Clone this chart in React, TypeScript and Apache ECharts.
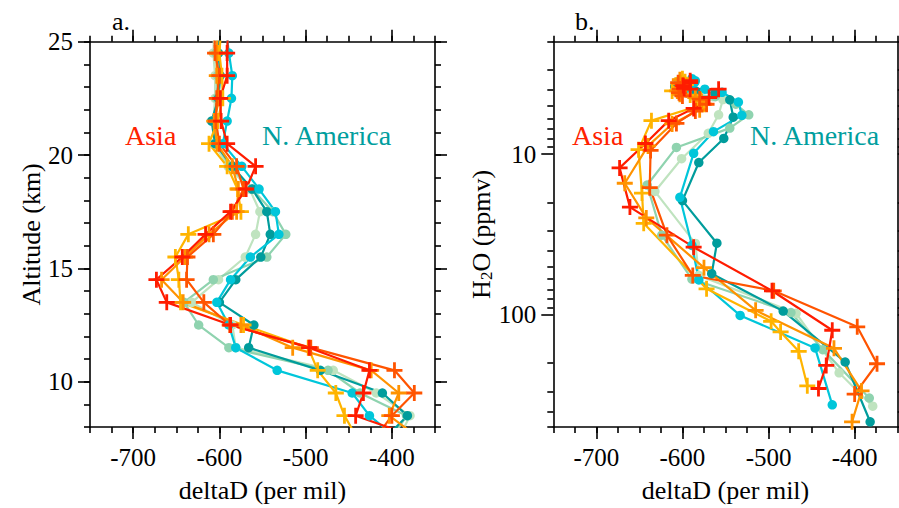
import React, { useEffect, useRef } from 'react';
import * as echarts from 'echarts';

// Altitude levels (km) of the profiles
const ALTITUDE_KM = [25.5, 24.5, 23.5, 22.5, 21.5, 20.5, 19.5, 18.5, 17.5, 16.5, 15.5, 14.5, 13.5, 12.5, 11.5, 10.5, 9.5, 8.5, 7.5];

// deltaD (per mil) at each altitude level
const ASIA_RED_DD = [-590, -591, -591, -599, -598, -591, -558, -569, -587, -616, -643, -673, -661, -587, -496, -426, -433, -442, -368];
const ASIA_ORANGERED_DD = [-606, -605, -600, -603, -604, -600, -580, -572, -585, -607, -637, -638, -618, -588, -494, -397, -374, -400, -419];
const ASIA_ORANGE_DD = [-602, -603, -603, -600, -606, -603, -585, -578, -580, -612, -640, -667, -642, -575, -515, -424, -392, -403, -368];
const ASIA_AMBER_DD = [-598, -600, -597, -596, -602, -612, -591, -579, -575, -636, -651, -647, -645, -572, -497, -486, -465, -455, -440];
const NAM_TEAL_DD = [-600, -601, -599, -601, -609, -605, -585, -562, -545, -541, -552, -581, -600, -560, -566, -483, -411, -382, -408];
const NAM_CYAN_DD = [-592, -589, -585, -586, -591, -596, -574, -554, -535, -531, -564, -587, -603, -589, -581, -533, -446, -426, -394];
const NAM_GREEN_DD = [-603, -604, -602, -603, -605, -603, -588, -562, -538, -523, -545, -607, -641, -624, -589, -474, -437, -383, -400];
const NAM_PALE_DD = [-606, -607, -605, -605, -607, -606, -590, -565, -553, -558, -570, -601, -632, -585, -581, -468, -418, -379, -392];

// H2O (ppmv) at each altitude level (null = not plotted)
const ASIA_RED_H2O = [null, 3.5, 3.6, 3.75, 3.9, 3.95, 3.95, 4.45, 5.2, 6.2, 8.6, 12.2, 21.4, 38, 71, 125, 207, 288, null];
const ASIA_ORANGERED_H2O = [null, 3.6, 3.75, 3.95, 4.15, 4.35, 4.55, 4.9, 5.4, 6.45, 9.5, 16.2, 32, 57, 71, 119, 202, 312, null];
const ASIA_ORANGE_H2O = [null, 3.45, 3.65, 3.85, 4.05, 4.25, 4.45, 4.7, 5.3, 6.5, 8.9, 15.2, 25, 51, 94, 162, 298, 464, null];
const ASIA_AMBER_H2O = [null, 3.4, 3.55, 3.7, 3.85, 4.05, 4.3, 4.6, 4.9, 6.2, 9.4, 17.5, 27, 69, 110, 128, 169, 277, null];
const NAM_TEAL_H2O = [null, 3.45, 3.55, 3.65, 3.8, 3.95, 4.05, 4.2, 4.6, 5.9, 8.0, 11.3, 19.5, 35.9, 55.6, 95, 197, 464, null];
const NAM_CYAN_H2O = [null, 3.4, 3.5, 3.6, 3.75, 3.9, 3.95, 4.13, 4.75, 5.74, 7.26, 9.9, 18.6, 37, 60.8, 101, 161, 364, null];
const NAM_GREEN_H2O = [null, 3.5, 3.65, 3.8, 3.95, 4.1, 4.25, 4.4, 4.9, 5.7, 6.9, 9.1, 15.6, 32, 60, 97, 165, 330, null];
const NAM_PALE_H2O = [null, 3.55, 3.65, 3.85, 4.0, 4.15, 4.3, 4.4, 4.58, 5.7, 7.43, 10.7, 17.1, 36, 57, 98, 230, 371, null];

// Tick values
const X_MAJOR_TICKS = [-700, -600, -500, -400];
const X_MINOR_TICKS = [-750, -725, -700, -675, -650, -625, -600, -575, -550, -525, -500, -475, -450, -425, -400, -375, -350];
const ALT_MAJOR_TICKS = [10, 15, 20, 25];
const ALT_MINOR_TICKS = [8, 9, 10, 11, 12, 13, 14, 15, 16, 17, 18, 19, 20, 21, 22, 23, 24, 25];
const H2O_MAJOR_TICKS = [10, 100];
const H2O_MINOR_TICKS = [2, 3, 4, 5, 6, 7, 8, 9, 20, 30, 40, 50, 60, 70, 80, 90, 200, 300, 400, 500];

// Text
const PANEL_LABELS = ['a.', 'b.'];
const X_NAME = 'deltaD (per mil)';
const ALT_NAME = 'Altitude (km)';
const REGION_ASIA = 'Asia';
const REGION_NAM = 'N. America';

const FONT = '"Liberation Serif", "Times New Roman", serif';
const CROSS = 'path://M6.6,0H9.4V6.6H16V9.4H9.4V16H6.6V9.4H0V6.6H6.6Z';

const PROFILES = [
  { dd: NAM_PALE_DD, h2o: NAM_PALE_H2O, color: '#BFE3BF', mark: 'dot' },
  { dd: NAM_GREEN_DD, h2o: NAM_GREEN_H2O, color: '#8FD3AF', mark: 'dot' },
  { dd: NAM_TEAL_DD, h2o: NAM_TEAL_H2O, color: '#009C9C', mark: 'dot' },
  { dd: NAM_CYAN_DD, h2o: NAM_CYAN_H2O, color: '#00C6DA', mark: 'dot' },
  { dd: ASIA_AMBER_DD, h2o: ASIA_AMBER_H2O, color: '#FFB400', mark: 'cross' },
  { dd: ASIA_ORANGE_DD, h2o: ASIA_ORANGE_H2O, color: '#FF9200', mark: 'cross' },
  { dd: ASIA_ORANGERED_DD, h2o: ASIA_ORANGERED_H2O, color: '#FF5400', mark: 'cross' },
  { dd: ASIA_RED_DD, h2o: ASIA_RED_H2O, color: '#FF1C00', mark: 'cross' },
];

const AXIS_LINE = { color: '#000', width: 1.6 };
const LABEL_STYLE = { color: '#000', fontFamily: FONT, fontSize: 25 };
const NAME_STYLE = { color: '#000', fontFamily: FONT, fontSize: 26 };

function makeXAxes(grid: number) {
  const base: any = { type: 'value', gridIndex: grid, min: -750, max: -350, splitLine: { show: false } };
  const major = (position: string, labels: boolean) => ({
    ...base,
    position,
    axisLine: { show: true, onZero: false, lineStyle: AXIS_LINE },
    axisTick: { show: true, customValues: X_MAJOR_TICKS, length: 12, lineStyle: AXIS_LINE },
    axisLabel: labels ? { show: true, customValues: X_MAJOR_TICKS, margin: 18, ...LABEL_STYLE } : { show: false },
    ...(labels ? { name: X_NAME, nameLocation: 'middle', nameGap: 50, nameTextStyle: NAME_STYLE } : {}),
  });
  const minor = (position: string) => ({
    ...base,
    position,
    axisLine: { show: false, onZero: false },
    axisTick: { show: true, customValues: X_MINOR_TICKS, length: 6, lineStyle: AXIS_LINE },
    axisLabel: { show: false },
  });
  return [major('bottom', true), minor('bottom'), major('top', false), minor('top')];
}

function makeYAxes(grid: number) {
  const isLog = grid === 1;
  const base: any = isLog
    ? { type: 'log', logBase: 10, min: 2, max: 500, inverse: true, gridIndex: grid, splitLine: { show: false } }
    : { type: 'value', min: 8, max: 25, gridIndex: grid, splitLine: { show: false } };
  const majorTicks = isLog ? H2O_MAJOR_TICKS : ALT_MAJOR_TICKS;
  const minorTicks = isLog ? H2O_MINOR_TICKS : ALT_MINOR_TICKS;
  const nameCfg = isLog
    ? {
        name: '{n|H}{s|2}{n|O (ppmv)}',
        nameLocation: 'middle',
        nameRotate: 90,
        nameGap: 48,
        nameTextStyle: {
          ...NAME_STYLE,
          rich: {
            n: { ...NAME_STYLE },
            s: { ...NAME_STYLE, fontSize: 17, verticalAlign: 'bottom' },
          },
        },
      }
    : { name: ALT_NAME, nameLocation: 'middle', nameRotate: 90, nameGap: 44, nameTextStyle: NAME_STYLE };
  const major = (position: string, labels: boolean) => ({
    ...base,
    position,
    axisLine: { show: true, onZero: false, lineStyle: AXIS_LINE },
    axisTick: { show: true, customValues: majorTicks, length: 12, lineStyle: AXIS_LINE },
    axisLabel: labels ? { show: true, customValues: majorTicks, margin: 17, ...LABEL_STYLE } : { show: false },
    ...(labels ? nameCfg : {}),
  });
  const minor = (position: string) => ({
    ...base,
    position,
    axisLine: { show: false, onZero: false },
    axisTick: { show: true, customValues: minorTicks, length: 6, lineStyle: AXIS_LINE },
    axisLabel: { show: false },
  });
  return [major('left', true), minor('left'), major('right', false), minor('right')];
}

function makeSeries() {
  const out: any[] = [];
  PROFILES.forEach((p) => {
    const common = {
      type: 'line',
      symbol: p.mark === 'cross' ? CROSS : 'circle',
      symbolSize: p.mark === 'cross' ? 16 : 9.5,
      showSymbol: true,
      clip: true,
      lineStyle: { color: p.color, width: 2.2 },
      itemStyle: { color: p.color, borderWidth: 0 },
      emphasis: { disabled: true },
      silent: true,
    };
    out.push({
      ...common,
      xAxisIndex: 0,
      yAxisIndex: 0,
      data: ALTITUDE_KM.map((a, i) => [p.dd[i], a]),
    });
    const right: number[][] = [];
    ALTITUDE_KM.forEach((_, i) => {
      const w = p.h2o[i];
      if (w != null) right.push([p.dd[i], w]);
    });
    out.push({ ...common, xAxisIndex: 4, yAxisIndex: 4, data: right });
  });
  return out;
}

function textEl(text: string, x: number, y: number, color: string, size: number) {
  return {
    type: 'text',
    x,
    y,
    silent: true,
    style: {
      text,
      fill: color,
      font: `${size}px ${FONT}`,
      align: 'left',
      verticalAlign: 'middle',
      textAlign: 'left',
      textVerticalAlign: 'middle',
    },
  };
}

export default function App() {
  const ref = useRef<HTMLDivElement>(null);
  useEffect(() => {
    if (!ref.current) return;
    const chart = echarts.init(ref.current, undefined, { renderer: 'svg' });
    const option: any = {
      animation: false,
      backgroundColor: '#fff',
      grid: [
        { left: 90, top: 41.7, width: 345, height: 391.6, containLabel: false },
        { left: 553.3, top: 41.7, width: 344.4, height: 391.6, containLabel: false },
      ],
      xAxis: [...makeXAxes(0), ...makeXAxes(1)],
      yAxis: [...makeYAxes(0), ...makeYAxes(1)],
      series: makeSeries(),
      graphic: [
        textEl(PANEL_LABELS[0], 112, 21, '#000', 26),
        textEl(PANEL_LABELS[1], 575, 21, '#000', 26),
        textEl(REGION_ASIA, 125, 135.5, '#FF2200', 28),
        textEl(REGION_NAM, 262, 135.5, '#009E9E', 28),
        textEl(REGION_ASIA, 572, 135.5, '#FF2200', 28),
        textEl(REGION_NAM, 750, 135.5, '#009E9E', 28),
      ],
    };
    chart.setOption(option);
    return () => chart.dispose();
  }, []);
  return (
    <div
      ref={ref}
      style={{ position: 'fixed', left: 0, top: 0, width: 899, height: 508, background: '#fff' }}
    />
  );
}
